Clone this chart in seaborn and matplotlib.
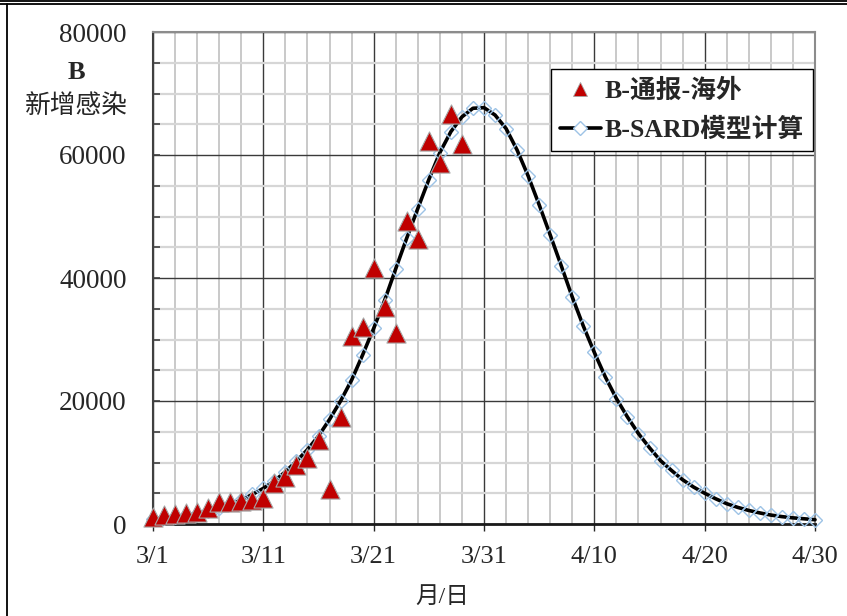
import matplotlib
matplotlib.use("Agg")
import matplotlib.pyplot as plt
import seaborn as sns
import pandas as pd
from matplotlib.lines import Line2D
from matplotlib.ticker import MultipleLocator

sns.set_style("ticks")
plt.rcParams['font.family'] = ['Liberation Serif', 'Noto Sans CJK SC', 'DejaVu Sans']

# days counted from 3/1
obs_days = list(range(0, 29))
obs_cases = [1200, 1450, 1600, 1850, 1900, 2550, 3600, 3600, 3800, 3900,
             4300, 6700, 7600, 9600, 10700, 13700, 5700, 17400, 30500, 32000,
             41700, 35300, 31100, 49200, 46300, 62200, 58700, 66600, 61800]

model_days = list(range(0, 61))
model_cases = [850, 1000, 1200, 1400, 1700, 2100, 2600, 3200, 3900, 4800,
               5800, 7000, 8500, 10200, 12100, 14300, 17000, 20000, 23400, 27500,
               31800, 36400, 41500, 46500, 51300, 56000, 60400, 63800, 66200, 67600,
               67700, 66500, 64300, 60800, 56600, 51900, 47000, 42000, 36900, 32200,
               27900, 23900, 20400, 17400, 14700, 12400, 10300, 8700, 7200, 6000,
               5000, 4100, 3300, 2700, 2200, 1800, 1450, 1200, 1000, 850, 700]

tick_days = [0, 10, 20, 30, 40, 50, 60]
tick_labels = ["3/1", "3/11", "3/21", "3/31", "4/10", "4/20", "4/30"]

obs = pd.DataFrame({"day": obs_days, "cases": obs_cases})
model = pd.DataFrame({"day": model_days, "cases": model_cases})

fig = plt.figure(figsize=(8.47, 6.16), dpi=100)
ax = fig.add_axes([153/847, 92/616, 662/847, 492/616])

# model curve with hollow diamonds
sns.lineplot(data=model, x="day", y="cases", ax=ax, color="black", lw=2.6,
             marker="D", markersize=7.5, markerfacecolor="none",
             markeredgecolor="#9DC3E6", markeredgewidth=1.0, clip_on=False, zorder=3)

# reported cases
sns.scatterplot(data=obs, x="day", y="cases", ax=ax, marker="^", s=190,
                color="#C00000", edgecolor="#A6A6A6", linewidth=0.8,
                clip_on=False, zorder=4)

ax.set_xlim(0, 60)
ax.set_ylim(0, 80000)
ax.set_xticks(tick_days)
ax.set_xticklabels(tick_labels)
ax.xaxis.set_minor_locator(MultipleLocator(2))
ax.yaxis.set_major_locator(MultipleLocator(20000))
ax.yaxis.set_minor_locator(MultipleLocator(5000))

ax.xaxis.grid(True, which="major", color="#3A3A3A", lw=1.0)
ax.xaxis.grid(True, which="minor", color="#C0C0C0", lw=1.2)
ax.yaxis.grid(True, which="major", color="#3A3A3A", lw=1.0)
ax.yaxis.grid(True, which="minor", color="#D6D6D6", lw=1.6)
ax.set_axisbelow(True)

ax.tick_params(axis="y", which="both", direction="in", length=5, width=1.2,
               color="#404040", pad=19, labelsize=19.5)
ax.tick_params(axis="x", which="major", direction="out", length=5, width=1.0,
               pad=11, labelsize=19)
ax.tick_params(axis="x", which="minor", length=0)

for side in ["top", "right"]:
    ax.spines[side].set_color("#8C8C8C")
    ax.spines[side].set_linewidth(1.5)
ax.spines["left"].set_color("#404040")
ax.spines["left"].set_linewidth(1.5)
ax.spines["bottom"].set_color("#1A1A1A")
ax.spines["bottom"].set_linewidth(2.0)

ax.set_xlabel("月/日", fontsize=17)
ax.xaxis.set_label_coords((442 - 153) / 662, -0.128)
ax.set_ylabel("")
ax.text(-0.115, 0.917, "B", transform=ax.transAxes, ha="center", va="center",
        fontsize=19, fontweight="bold")
ax.text(-0.115, 0.85, "新增感染", transform=ax.transAxes, ha="center",
        va="center", fontsize=18.5)

handles = [
    Line2D([], [], ls="none", marker="^", markersize=10, color="#C00000",
           markeredgecolor="#A6A6A6", markeredgewidth=0.6),
    Line2D([], [], color="black", lw=2.6, marker="D", markersize=7.5,
           markerfacecolor="white", markeredgecolor="#9DC3E6"),
]
leg = ax.legend(handles, ["B-通报-海外", "B-SARD模型计算"],
                loc="upper right", bbox_to_anchor=(0.997, 0.924),
                prop={"size": 18.5, "weight": "bold"}, frameon=True,
                fancybox=False, framealpha=1, edgecolor="black",
                handlelength=1.6, handletextpad=0.15, borderpad=0.35,
                labelspacing=0.6, borderaxespad=0)
leg.get_frame().set_linewidth(1.0)

# outer frame lines
fig.add_artist(Line2D([0, 1], [1 - 1/616, 1 - 1/616], transform=fig.transFigure,
                      color="black", lw=1.3))
fig.add_artist(Line2D([0, 1], [1 - 4/616, 1 - 4/616], transform=fig.transFigure,
                      color="black", lw=1.3))
fig.add_artist(Line2D([7/847, 7/847], [0, 1 - 4/616], transform=fig.transFigure,
                      color="black", lw=1.3))

fig.savefig("out.png", dpi=100)
